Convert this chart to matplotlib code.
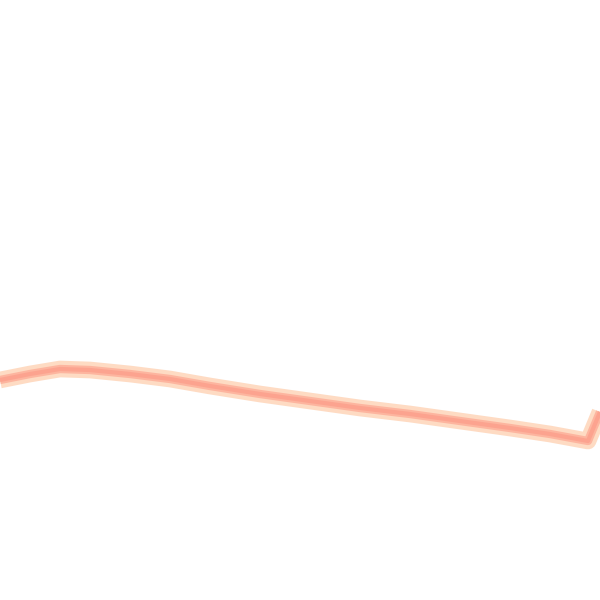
import matplotlib
matplotlib.use("Agg")
import matplotlib.pyplot as plt

# data (x position, value; higher value = higher on chart)
x_vals = [0, 30, 60, 90, 130, 170, 210, 260, 310, 360, 410, 460, 510, 550, 588, 600]
y_vals = [220, 226, 231, 230, 226, 221, 214, 206, 199, 192, 186, 179, 172, 166, 159, 188]

fig = plt.figure(figsize=(6, 6), dpi=100)
ax = fig.add_axes([0, 0, 1, 1])
ax.plot(x_vals, y_vals, color="#fedbc3", lw=12, solid_capstyle="butt", solid_joinstyle="round")
ax.plot(x_vals, y_vals, color="#fdb59f", lw=6, solid_capstyle="butt", solid_joinstyle="round")
ax.plot(x_vals, y_vals, color="#fca38f", lw=3, solid_capstyle="butt", solid_joinstyle="round")
ax.set_xlim(0, 600)
ax.set_ylim(0, 600)
ax.axis("off")
fig.savefig("out.png", dpi=100, facecolor="white")
